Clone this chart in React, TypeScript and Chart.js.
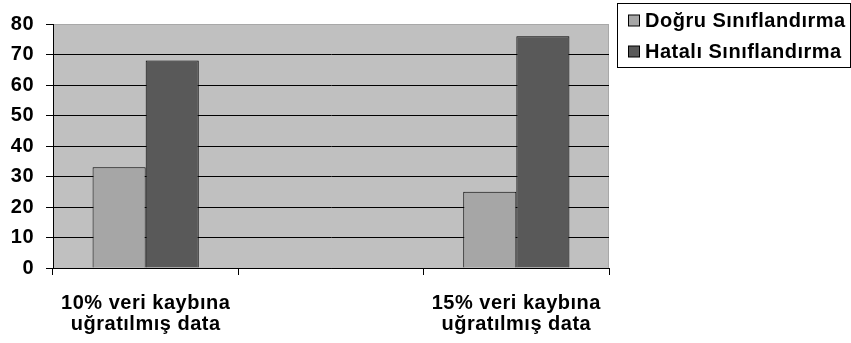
import React, { useEffect, useRef } from "react";
import { Chart, registerables } from "chart.js";

Chart.register(...registerables);

const categories: (string | string[])[] = [
  ["10% veri kaybına", "uğratılmış data"],
  "",
  ["15% veri kaybına", "uğratılmış data"],
];
const seriesNames = ["Doğru Sınıflandırma", "Hatalı Sınıflandırma"];
const dogru = [33, null, 25];
const hatali = [68, null, 76];
const seriesColors = ["#a6a6a6", "#595959"];
const yTicks = [0, 10, 20, 30, 40, 50, 60, 70, 80];

const FONT = "'Liberation Sans', Arial, sans-serif";
const FSIZE = 20;

const spacing = {
  id: "spacing",
  beforeInit(chart: any) {
    (chart.ctx as any).letterSpacing = "0.5px";
  },
  beforeDraw(chart: any) {
    (chart.ctx as any).letterSpacing = "0.5px";
  },
};

const plotBg = {
  id: "plotBg",
  beforeDraw(chart: any) {
    const { ctx, chartArea: a } = chart;
    ctx.save();
    ctx.fillStyle = "#c0c0c0";
    ctx.fillRect(a.left, a.top, a.right - a.left, a.bottom - a.top);
    ctx.strokeStyle = "#a8a8a8";
    ctx.lineWidth = 1;
    ctx.strokeRect(a.left + 0.5, a.top + 0.5, a.right - a.left - 1, a.bottom - a.top);
    ctx.restore();
  },
};

const customLegend = {
  id: "customLegend",
  afterDraw(chart: any) {
    const { ctx } = chart;
    const x0 = 617.5, y0 = 3.5, w = 233, h = 64;
    ctx.save();
    ctx.fillStyle = "#ffffff";
    ctx.fillRect(x0, y0, w, h);
    ctx.strokeStyle = "#000";
    ctx.lineWidth = 1;
    ctx.strokeRect(x0, y0, w, h);
    ctx.font = `bold ${FSIZE}px ${FONT}`;
    ctx.textBaseline = "middle";
    ctx.textAlign = "left";
    chart.data.datasets.forEach((ds: any, i: number) => {
      const cy = 20 + i * 31;
      ctx.fillStyle = ds.backgroundColor;
      ctx.fillRect(628.5, cy - 5, 11, 11);
      ctx.strokeStyle = "#000";
      ctx.strokeRect(628.5, cy - 5, 11, 11);
      ctx.fillStyle = "#000";
      ctx.fillText(ds.label, 645, cy + 1);
    });
    ctx.restore();
  },
};

export default function App() {
  const ref = useRef<HTMLCanvasElement>(null);
  useEffect(() => {
    document.body.style.margin = "0";
    const chart = new Chart(ref.current!, {
      type: "bar",
      data: {
        labels: categories,
        datasets: [
          {
            label: seriesNames[0],
            data: dogru,
            backgroundColor: seriesColors[0],
            borderColor: "#000",
            borderWidth: 1,
          },
          {
            label: seriesNames[1],
            data: hatali,
            backgroundColor: seriesColors[1],
            borderColor: "#000",
            borderWidth: 1,
          },
        ],
      },
      options: {
        animation: false,
        responsive: false,
        maintainAspectRatio: false,
        layout: { padding: { left: 0, top: 19, right: 242, bottom: 0 } },
        plugins: { legend: { display: false }, tooltip: { enabled: false } },
        datasets: { bar: { categoryPercentage: 0.573, barPercentage: 1 } },
        scales: {
          x: {
            offset: true,
            grid: {
              offset: true,
              drawOnChartArea: false,
              drawTicks: true,
              tickLength: 7,
              color: "#000",
            },
            border: { display: true, color: "#000", width: 1 },
            ticks: {
              color: "#000",
              font: { family: FONT, size: FSIZE, weight: "bold", lineHeight: 1.05 },
              padding: 18,
              maxRotation: 0,
              autoSkip: false,
            },
            afterFit(scale: any) {
              scale.height = 75;
            },
          },
          y: {
            min: 0,
            max: 80,
            afterBuildTicks(scale: any) {
              scale.ticks = yTicks.map((v) => ({ value: v }));
            },
            grid: {
              color: (c: any) => (c.tick && c.tick.value === 80 ? "#a8a8a8" : "#000"),
              tickColor: "#000",
              tickLength: 7,
              lineWidth: 1,
            },
            border: { display: true, color: "#000", width: 1 },
            ticks: {
              color: "#000",
              font: { family: FONT, size: FSIZE, weight: "bold" },
              padding: 12,
            },
            afterFit(scale: any) {
              scale.width = 53;
            },
          },
        },
      },
      plugins: [spacing, plotBg, customLegend],
    });
    return () => chart.destroy();
  }, []);
  return (
    <div style={{ position: "absolute", left: 0, top: 0, width: 851, height: 343 }}>
      <canvas ref={ref} width={851} height={343} style={{ width: 851, height: 343 }} />
    </div>
  );
}
